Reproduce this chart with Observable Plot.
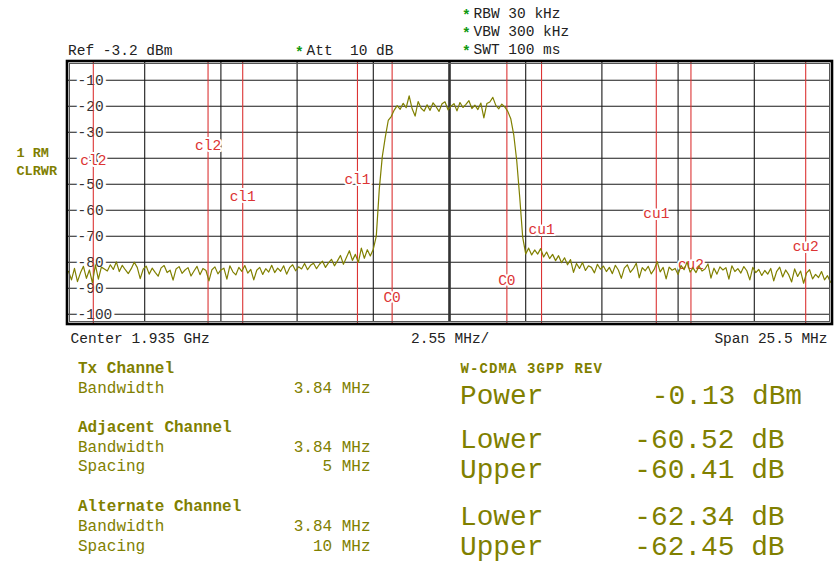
<!DOCTYPE html>
<html><head><meta charset="utf-8">
<script src="https://cdn.jsdelivr.net/npm/d3@7"></script>
<script src="https://cdn.jsdelivr.net/npm/@observablehq/plot@0.6"></script>
<style>
html,body{margin:0;padding:0;background:#fff;}
#wrap{position:relative;width:835px;height:562px;overflow:hidden;background:#fff;}
#wrap > svg{position:absolute;left:0;top:0;}
</style></head><body><div id="wrap"></div>
<script>
const MONO = '"Courier New", "Liberation Mono", "DejaVu Sans Mono", monospace';

// ---- instrument settings ----
const refLevelDbm = -3.2;
const dbPerDiv = 10;
const spanMHz = 25.5;
const sweepStartMHz = -12.75;   // offset from centre 1.935 GHz
const sweepStepMHz = 0.1;

// ---- trace (dBm), one value per sweep step ----
const traceDbm = [
-83.5,-86.8,-82.4,-87.5,-84.1,-81.6,-86.2,-83.0,-88.0,-81.0,
-86.5,-81.9,-82.6,-83.4,-81.0,-82.8,-79.9,-83.6,-81.2,-82.9,
-84.4,-82.5,-80.0,-82.0,-86.3,-82.7,-81.5,-84.6,-82.3,-83.9,
-85.4,-82.2,-81.3,-84.0,-83.1,-86.9,-82.6,-81.7,-84.3,-83.0,
-82.1,-85.3,-83.4,-81.6,-84.8,-82.4,-83.2,-87.2,-82.9,-81.8,
-84.5,-83.0,-82.3,-86.5,-81.4,-83.7,-84.9,-82.0,-83.5,-81.3,
-84.2,-82.8,-86.8,-83.1,-82.0,-84.7,-82.5,-83.8,-81.2,-84.0,
-82.3,-83.5,-81.4,-84.6,-82.1,-81.0,-83.3,-81.8,-82.6,-80.5,
-82.9,-81.2,-80.4,-82.5,-80.8,-79.6,-82.0,-80.3,-78.9,-81.4,
-79.5,-77.4,-80.8,-78.2,-75.6,-79.3,-77.0,-80.1,-74.6,-78.5,
-75.2,-77.6,-75.0,-70.0,-52.0,-39.5,-32.0,-25.5,-24.0,-21.5,
-19.8,-21.2,-18.9,-20.6,-16.0,-21.0,-23.8,-18.2,-20.8,-21.9,
-19.5,-21.6,-18.7,-20.2,-22.0,-19.1,-18.3,-21.4,-20.0,-19.0,
-21.8,-18.6,-20.5,-19.3,-17.9,-20.9,-19.6,-21.3,-18.8,-24.5,
-19.0,-18.4,-16.6,-19.7,-21.0,-19.2,-20.3,-22.0,-24.8,-31.0,
-41.0,-55.0,-70.5,-76.8,-74.6,-77.2,-75.3,-76.9,-74.8,-78.0,
-76.1,-78.6,-77.0,-79.4,-77.5,-80.2,-78.3,-81.0,-79.0,-83.9,
-80.5,-82.4,-80.1,-83.2,-81.4,-82.0,-84.1,-80.8,-82.7,-81.5,
-83.6,-82.0,-84.4,-81.2,-83.0,-86.2,-82.3,-81.0,-83.9,-82.5,
-80.4,-86.0,-82.1,-83.3,-81.6,-84.5,-82.8,-79.8,-83.7,-82.0,
-86.4,-81.9,-83.1,-82.4,-84.7,-81.3,-82.9,-79.9,-83.8,-82.2,
-84.0,-81.5,-83.4,-82.6,-80.7,-86.1,-82.3,-84.6,-81.8,-83.0,
-82.1,-86.5,-81.4,-83.6,-82.5,-84.2,-81.7,-83.3,-86.8,-82.0,
-84.0,-82.8,-85.1,-83.2,-84.6,-82.4,-87.2,-83.5,-81.9,-85.7,
-83.0,-84.8,-87.6,-82.6,-85.5,-83.4,-88.1,-84.1,-82.9,-86.4,
-84.7,-85.9,-83.6,-86.8,-85.2,-87.7
];

// ---- grid ----
const xGridMHz = [-10.2, -7.65, -5.1, -2.55, 0, 2.55, 5.1, 7.65, 10.2];
const yGridDbm = [-10, -20, -30, -40, -50, -60, -70, -80, -90, -100];

// ---- channel limit lines ----
const chanEdgeMHz = [-11.92, -8.08, -6.92, -3.08, -1.92, 1.92, 3.08, 6.92, 8.08, 11.92];
const chanNames   = ["cl2", "cl2", "cl1", "cl1", "C0", "C0", "cu1", "cu1", "cu2", "cu2"];
const chanLabelDbm = [-40.9, -35.1, -54.7, -48.2, -93.6, -87.1, -67.4, -61.3, -80.9, -74.0];

// ---- texts ----
const refText = "Ref -3.2 dBm";
const attText = "Att  10 dB";
const sweepTexts = ["RBW 30 kHz", "VBW 300 kHz", "SWT 100 ms"];
const traceTexts = ["1 RM", "CLRWR"];
const bottomTexts = ["Center 1.935 GHz", "2.55 MHz/", "Span 25.5 MHz"];
const tableLeft = [
  {label: "Tx Channel", value: "", bold: true},
  {label: "Bandwidth", value: "3.84 MHz"},
  {label: "Adjacent Channel", value: "", bold: true},
  {label: "Bandwidth", value: "3.84 MHz"},
  {label: "Spacing", value: "5 MHz"},
  {label: "Alternate Channel", value: "", bold: true},
  {label: "Bandwidth", value: "3.84 MHz"},
  {label: "Spacing", value: "10 MHz"}
];
const stdTitle = "W-CDMA 3GPP REV";
const resultNames = ["Power", "Lower", "Upper", "Lower", "Upper"];
const resultValues = ["-0.13 dBm", "-60.52 dB", "-60.41 dB", "-62.34 dB", "-62.45 dB"];

// build tables
const trace = traceDbm.map((v, i) => ({f: sweepStartMHz + i * sweepStepMHz, v}));
const chans = chanEdgeMHz.map((f, i) => ({f, name: chanNames[i], lvl: chanLabelDbm[i]}));

const OLIVE = "#808000";
const RED = "#dc3434";

const plot = Plot.plot({
  width: 835, height: 340,
  marginLeft: 68, marginRight: 5, marginTop: 62, marginBottom: 18,
  x: {domain: [-spanMHz / 2, spanMHz / 2], axis: null},
  y: {domain: [refLevelDbm - 10 * dbPerDiv, refLevelDbm], axis: null},
  style: {fontFamily: MONO, background: "white", overflow: "visible"},
  marks: [
    Plot.ruleX(xGridMHz, {stroke: "#1a1a1a", strokeWidth: 1.1}),
    Plot.ruleY(yGridDbm, {stroke: "#1a1a1a", strokeWidth: 1.1}),
    Plot.ruleX([0], {stroke: "#333", strokeWidth: 2.6}),
    Plot.text(yGridDbm, {y: d => d, text: d => String(d), frameAnchor: "left", dx: 9, textAnchor: "start",
      fill: "#333", stroke: "white", strokeWidth: 6, fontSize: 14.5, fontFamily: MONO}),
    Plot.ruleX(chans, {x: "f", stroke: RED, strokeWidth: 1.1, insetTop: -2, insetBottom: -3}),
    Plot.text(chans, {x: "f", y: "lvl", text: "name", fill: RED, stroke: "white", strokeWidth: 4,
      fontSize: 14.5, fontFamily: MONO}),
    Plot.line(trace, {x: "f", y: "v", stroke: OLIVE, strokeWidth: 1.2}),
    Plot.frame({stroke: "#555", strokeWidth: 1, inset: 1}),
    Plot.frame({stroke: "#000", strokeWidth: 2.6, inset: -1.5})
  ]
});
document.getElementById("wrap").appendChild(plot);

// ---- text overlay ----
const ov = d3.select("#wrap").append("svg").attr("width", 835).attr("height", 562)
  .style("pointer-events", "none");
function txt(s, x, y, o = {}) {
  return ov.append("text").attr("x", x).attr("y", y)
    .attr("font-family", MONO).attr("font-size", o.size || 14.5)
    .attr("font-weight", o.weight || "normal").attr("fill", o.fill || "#222")
    .attr("text-anchor", o.anchor || "start").attr("letter-spacing", o.ls || 0)
    .style("white-space", "pre").text(s);
}
const GREEN = "#119911";
txt(refText, 68, 55);
txt("*", 295, 57, {fill: GREEN, weight: "bold"});
txt(attText, 306.5, 55);
sweepTexts.forEach((s, i) => {
  txt("*", 462, 19.5 + i * 18.3, {fill: GREEN, weight: "bold"});
  txt(s, 473.5, 17.5 + i * 18.3);
});
traceTexts.forEach((s, i) => txt(s, 16.5, 157 + i * 18, {fill: OLIVE, weight: "bold", size: 13.5}));
txt(bottomTexts[0], 70.5, 342.5);
txt(bottomTexts[1], 411, 342.5);
txt(bottomTexts[2], 827.5, 342.5, {anchor: "end"});

const leftBase = [373, 393, 432, 452, 471, 511, 531, 551];
tableLeft.forEach((r, i) => {
  txt(r.label, 78, leftBase[i], {fill: OLIVE, size: 16, weight: r.bold ? "bold" : "normal"});
  if (r.value) txt(r.value, 370.5, leftBase[i], {fill: OLIVE, size: 16, anchor: "end"});
});
txt(stdTitle, 460.5, 373, {fill: OLIVE, size: 14, weight: "bold", ls: 1.1});
const resBase = [403.5, 447.5, 478, 524.5, 554.5];
resultNames.forEach((s, i) => {
  txt(s, 460, resBase[i], {fill: OLIVE, size: 27.8});
  txt(resultValues[i], i === 0 ? 802 : 784.5, resBase[i], {fill: OLIVE, size: 27.8, anchor: "end"});
});
</script></body></html>
